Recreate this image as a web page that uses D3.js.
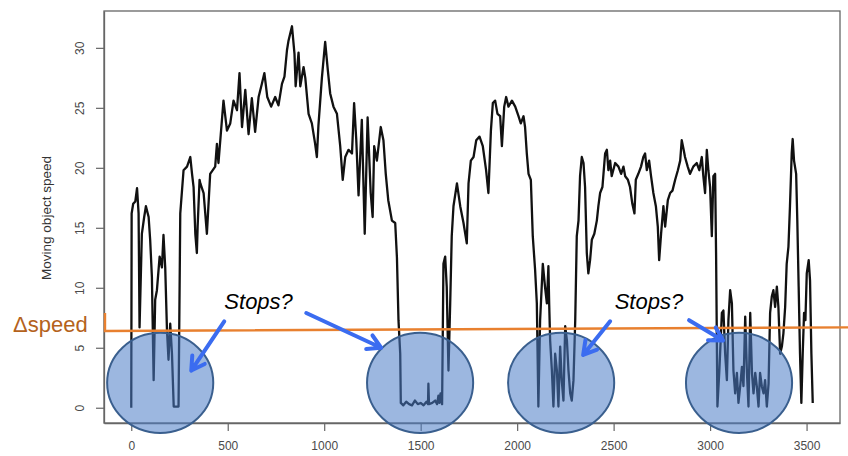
<!DOCTYPE html>
<html>
<head>
<meta charset="utf-8">
<script src="https://cdn.jsdelivr.net/npm/d3@7"></script>
<style>
  body { margin: 0; background: #fff; }
  svg { display: block; }
</style>
</head>
<body>
<svg id="chart" width="848" height="456"></svg>
<script>
// Speed trace of a moving object, sampled along its track
const sampleIndex = [
  0, 2, 10, 21, 30, 38, 43, 55, 67, 76, 90, 98, 107, 116, 124, 133, 147, 159, 167, 176,
  185, 193, 202, 211, 220, 245, 254, 271, 289, 306, 315, 323, 332, 340, 344, 354, 358, 375, 392, 409,
  435, 444, 452, 478, 496, 513, 530, 548, 561, 574, 591, 608, 625, 642, 660, 677, 690, 705, 725, 746,
  763, 781, 794, 807, 815, 833, 846, 852, 867, 876, 893, 902, 919, 936, 953, 962, 970, 988, 1005, 1019,
  1031, 1048, 1066, 1083, 1096, 1109, 1126, 1144, 1155, 1166, 1178, 1195, 1210, 1225, 1241, 1251, 1259, 1273, 1293, 1307,
  1319, 1332, 1351, 1368, 1377, 1385, 1394, 1397, 1410, 1425, 1440, 1455, 1470, 1485, 1500, 1515, 1530, 1538, 1540, 1543,
  1560, 1575, 1585, 1592, 1597, 1603, 1608, 1611, 1618, 1627, 1635, 1644, 1653, 1661, 1670, 1688, 1705, 1722, 1739, 1748,
  1760, 1774, 1788, 1805, 1822, 1839, 1851, 1864, 1874, 1886, 1898, 1912, 1921, 1933, 1943, 1955, 1973, 1990, 2007, 2019,
  2033, 2041, 2050, 2059, 2071, 2081, 2093, 2102, 2110, 2119, 2133, 2145, 2154, 2162, 2166, 2171, 2180, 2188, 2197, 2206,
  2214, 2223, 2231, 2240, 2249, 2258, 2266, 2275, 2283, 2292, 2301, 2309, 2318, 2326, 2335, 2344, 2352, 2361, 2369, 2378,
  2387, 2400, 2413, 2421, 2430, 2442, 2456, 2465, 2473, 2482, 2490, 2508, 2525, 2539, 2551, 2560, 2574, 2585, 2597, 2608,
  2615, 2628, 2642, 2654, 2663, 2672, 2684, 2694, 2706, 2719, 2729, 2736, 2746, 2758, 2767, 2781, 2793, 2805, 2819, 2833,
  2845, 2853, 2863, 2870, 2884, 2896, 2913, 2931, 2944, 2957, 2965, 2974, 2983, 2991, 3000, 3009, 3017, 3026, 3031, 3038,
  3048, 3061, 3069, 3078, 3087, 3095, 3104, 3113, 3121, 3130, 3139, 3147, 3156, 3165, 3173, 3182, 3191, 3199, 3208, 3217,
  3225, 3234, 3242, 3251, 3259, 3268, 3277, 3285, 3294, 3303, 3311, 3320, 3328, 3337, 3346, 3354, 3363, 3372, 3380, 3389,
  3397, 3406, 3414, 3423, 3428, 3435, 3446, 3452, 3459, 3466, 3473, 3480, 3487, 3494, 3501, 3511, 3518, 3525, 3532
];
const speed = [
  0, 16.2, 17.0, 17.2, 18.3, 16.2, 6.7, 14.5, 15.9, 16.8, 15.9, 14.0, 10.9, 2.3, 9.0, 9.8, 12.6, 11.7, 14.4, 11.7,
  6.5, 4.0, 7.0, 4.5, 0.1, 0.1, 16.2, 19.8, 20.1, 20.9, 19.5, 18.4, 14.5, 12.9, 15.1, 19.0, 18.7, 17.9, 14.5, 19.5,
  20.1, 22.0, 20.4, 25.6, 23.1, 23.7, 25.6, 24.8, 27.9, 23.4, 26.5, 22.8, 25.8, 23.0, 25.9, 27.0, 27.9, 25.9, 25.1, 25.9,
  25.2, 27.0, 27.6, 29.8, 30.6, 31.8, 29.5, 26.8, 29.6, 26.8, 28.4, 27.5, 24.5, 23.7, 22.0, 20.9, 23.5, 27.5, 30.5, 28.1,
  26.2, 25.1, 24.5, 21.8, 19.0, 20.9, 21.5, 21.2, 25.4, 22.4, 17.7, 24.0, 14.5, 24.2, 17.9, 15.9, 21.8, 20.6, 23.4, 22.3,
  19.5, 17.3, 15.6, 15.4, 12.5, 7.3, 4.5, 0.4, 0.2, 0.5, 0.3, 0.2, 0.6, 0.3, 0.4, 0.2, 0.5, 0.3, 2.0, 0.3,
  0.4, 0.6, 0.3, 1.0, 0.4, 1.2, 0.5, 0.3, 12.0, 12.6, 10.1, 3.1, 8.7, 14.3, 16.8, 18.7, 16.8, 15.4, 13.7, 18.7,
  20.6, 20.9, 22.3, 22.6, 21.8, 19.8, 17.9, 23.1, 25.4, 25.6, 24.5, 24.3, 21.8, 25.1, 25.9, 25.1, 25.6, 25.1, 24.3, 23.7,
  24.3, 23.4, 21.2, 19.5, 19.0, 14.3, 11.5, 8.7, 0.1, 7.3, 12.0, 10.0, 8.7, 11.8, 8.7, 5.6, 3.1, 0.1, 4.5, 3.1,
  0.1, 5.1, 2.3, 0.6, 6.8, 5.6, 3.1, 1.2, 0.6, 2.3, 7.3, 14.3, 15.6, 19.3, 20.9, 20.4, 18.4, 12.9, 11.2, 12.3,
  14.0, 14.5, 15.6, 16.8, 17.9, 18.4, 21.2, 21.5, 19.8, 20.6, 19.3, 20.4, 20.1, 19.5, 20.1, 19.3, 19.0, 18.4, 17.0, 16.2,
  19.0, 19.5, 20.1, 20.9, 21.2, 19.8, 20.6, 19.3, 17.9, 16.8, 15.1, 12.3, 14.5, 16.8, 15.1, 17.3, 17.9, 18.1, 19.0, 19.8,
  20.6, 22.3, 21.5, 20.9, 20.1, 19.5, 20.1, 20.4, 19.8, 20.9, 19.3, 17.9, 21.5, 19.8, 18.4, 14.3, 19.3, 19.5, 12.9, 0.1,
  3.1, 7.9, 8.1, 4.5, 2.3, 7.3, 9.8, 8.7, 3.1, 1.2, 2.9, 0.4, 1.8, 3.4, 1.8, 7.6, 2.9, 0.1, 7.9, 2.9,
  1.2, 2.9, 1.8, 0.1, 2.9, 1.8, 1.2, 2.3, 0.1, 2.0, 7.9, 9.3, 9.8, 8.4, 10.1, 8.4, 4.5, 5.1, 6.2, 8.4,
  12.0, 13.4, 16.8, 21.2, 22.4, 20.6, 19.5, 15.6, 10.1, 4.5, 0.4, 4.5, 7.9, 7.3, 11.2, 12.3, 10.6, 4.5, 0.4
];

const xTicks = [0, 500, 1000, 1500, 2000, 2500, 3000, 3500];
const yTicks = [0, 5, 10, 15, 20, 25, 30];
const yLabel = "Moving object speed";

// Stop threshold (Δspeed), drawn slightly rising across the plot
const thresholdLabel = "Δspeed";
const thresholdSpeed = [6.4, 6.7];

// Candidate stop episodes: centre index, half width in samples, speed band
const stopCenters = [150, 1497, 2228, 3150];
const stopHalfWidth = 275;
const stopSpeedBand = [-2.1, 6.25];

// "Stops?" callouts: label anchor and arrows [fromIndex, fromSpeed, toIndex, toSpeed]
const stopLabel = "Stops?";
const callouts = [
  { at: [660, 8.2], arrows: [[482, 7.2, 311, 3.1], [907, 7.9, 1295, 5.0]] },
  { at: [2683, 8.2], arrows: [[2482, 7.2, 2342, 4.4], [2891, 7.3, 3067, 5.6]] }
];

const W = 848, H = 456;
const plot = { left: 104, right: 840, top: 11, bottom: 423 };

const svg = d3.select("#chart");
svg.append("rect").attr("width", W).attr("height", H).attr("fill", "#fff");

// R-style 4% padding around the data range
function padded(ext) {
  const p = (ext[1] - ext[0]) * 0.04;
  return [ext[0] - p, ext[1] + p];
}
const x = d3.scaleLinear().domain(padded(d3.extent(sampleIndex))).range([plot.left, plot.right]);
const y = d3.scaleLinear().domain(padded(d3.extent(speed))).range([plot.bottom, plot.top]);

const points = sampleIndex.map((d, i) => [d, speed[i]]);

// Frame
svg.append("rect")
  .attr("x", plot.left).attr("y", plot.top)
  .attr("width", plot.right - plot.left).attr("height", plot.bottom - plot.top)
  .attr("fill", "none").attr("stroke", "#666").attr("stroke-width", 1.3);

// Axes
const axisFont = "'Liberation Sans', Arial, Helvetica, sans-serif";
const xAxis = svg.append("g")
  .attr("transform", `translate(0,${plot.bottom})`)
  .call(d3.axisBottom(x).tickValues(xTicks).tickSize(8).tickSizeOuter(0).tickPadding(10).tickFormat(d3.format("d")));
const yAxis = svg.append("g")
  .attr("transform", `translate(${plot.left},0)`)
  .call(d3.axisLeft(y).tickValues(yTicks).tickSize(8).tickSizeOuter(0).tickFormat(d3.format("d")));

[xAxis, yAxis].forEach(g => {
  g.select(".domain").attr("stroke", "#666").attr("stroke-width", 1.3);
  g.selectAll(".tick line").attr("stroke", "#666").attr("stroke-width", 1.2);
  g.selectAll(".tick text")
    .attr("fill", "#4a4a4a")
    .style("font-family", axisFont)
    .style("font-size", "12px");
});
yAxis.selectAll(".tick text")
  .attr("x", null).attr("dy", null)
  .attr("text-anchor", "middle")
  .attr("transform", "translate(-24,0) rotate(-90)")
  .attr("dy", "0.35em");

svg.append("text")
  .attr("transform", `translate(46,${(plot.top + plot.bottom) / 2 + 1}) rotate(-90)`)
  .attr("text-anchor", "middle")
  .attr("dy", "0.35em")
  .attr("fill", "#333")
  .style("font-family", axisFont)
  .style("font-size", "13.5px")
  .text(yLabel);

// Speed trace
svg.append("path")
  .datum(points)
  .attr("fill", "none")
  .attr("stroke", "#111")
  .attr("stroke-width", 2.3)
  .attr("stroke-linejoin", "round")
  .attr("d", d3.line().x(d => x(d[0])).y(d => y(d[1])));

// Stop candidate ellipses
svg.append("g").selectAll("ellipse")
  .data(stopCenters)
  .join("ellipse")
  .attr("cx", d => x(d))
  .attr("cy", y((stopSpeedBand[0] + stopSpeedBand[1]) / 2))
  .attr("rx", d => x(d + stopHalfWidth) - x(d))
  .attr("ry", (y(stopSpeedBand[0]) - y(stopSpeedBand[1])) / 2)
  .attr("fill", "rgb(74,124,198)")
  .attr("fill-opacity", 0.55)
  .attr("stroke", "#3a5f8e")
  .attr("stroke-width", 2);

// Threshold line with a short bracket at its start
const thrY0 = y(thresholdSpeed[0]), thrY1 = y(thresholdSpeed[1]);
const orange = "#e8802f";
svg.append("path")
  .attr("d", `M${plot.left + 1},${thrY0 - 18} L${plot.left + 1},${thrY0} L${W},${thrY1}`)
  .attr("fill", "none")
  .attr("stroke", orange)
  .attr("stroke-width", 2.4);

svg.append("text")
  .attr("x", 13).attr("y", thrY0 + 1)
  .attr("fill", "#b4621c")
  .style("font-family", "'Liberation Sans', Arial, Helvetica, sans-serif")
  .style("font-size", "22px")
  .text(thresholdLabel);

// Callouts
const arrowBlue = "#3b6cf0";
const calloutG = svg.append("g");
callouts.forEach(c => {
  const tx = x(c.at[0]), ty = y(c.at[1]);
  const label = calloutG.append("text")
    .attr("x", tx).attr("y", ty)
    .attr("text-anchor", "middle")
    .attr("fill", "#000")
    .style("font-family", "'Liberation Sans', Arial, Helvetica, sans-serif")
    .style("font-style", "italic")
    .style("font-size", "22px")
    .text(stopLabel);
  const bb = label.node().getBBox();
  calloutG.insert("rect", "text")
    .attr("x", bb.x - 6).attr("y", bb.y - 2)
    .attr("width", bb.width + 12).attr("height", bb.height + 4)
    .attr("fill", "#fff");

  c.arrows.forEach(a => {
    const x0 = x(a[0]), y0 = y(a[1]), x1 = x(a[2]), y1 = y(a[3]);
    const len = Math.hypot(x0 - x1, y0 - y1);
    const ux = (x0 - x1) / len, uy = (y0 - y1) / len;
    const head = 15, ang = Math.PI / 6;
    const rot = s => [x1 + head * (ux * Math.cos(s) - uy * Math.sin(s)), y1 + head * (ux * Math.sin(s) + uy * Math.cos(s))];
    const h1 = rot(ang), h2 = rot(-ang);
    calloutG.append("path")
      .attr("d", `M${x0},${y0} L${x1},${y1} M${h1[0]},${h1[1]} L${x1},${y1} L${h2[0]},${h2[1]}`)
      .attr("fill", "none")
      .attr("stroke", arrowBlue)
      .attr("stroke-width", 4)
      .attr("stroke-linecap", "round")
      .attr("stroke-linejoin", "round");
  });
});
</script>
</body>
</html>
